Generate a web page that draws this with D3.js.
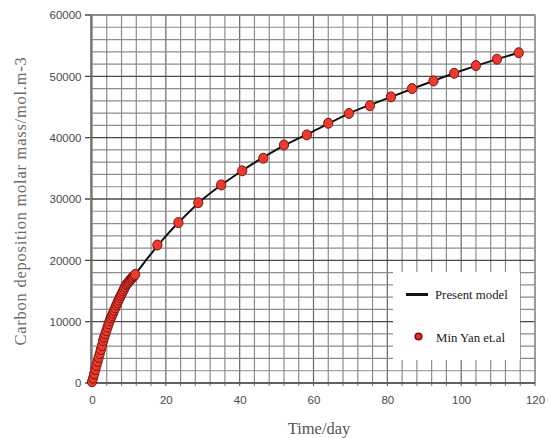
<!DOCTYPE html>
<html>
<head>
<meta charset="utf-8">
<script src="https://cdn.jsdelivr.net/npm/d3@7"></script>
<style>
  html, body { margin: 0; padding: 0; background: #fff; }
  svg { display: block; }
</style>
</head>
<body>
<svg id="chart" width="548" height="438"></svg>
<script>
// ---- data ----
const xTicks = [0, 20, 40, 60, 80, 100, 120];
const yTicks = [0, 10000, 20000, 30000, 40000, 50000, 60000];

// Min Yan et.al (measured points)
const dataTime = [0, 0.3, 0.6, 0.9, 1.2, 1.5, 1.8, 2.1, 2.4, 2.7, 3.0, 3.3, 3.6, 3.9, 4.2, 4.5,
  4.8, 5.1, 5.4, 5.7, 6.0, 6.3, 6.6, 6.9, 7.2, 7.5, 7.8, 8.1, 8.4, 8.7, 9.0, 9.3, 9.6, 9.9,
  10.2, 10.5, 10.8, 11.1, 11.4, 11.7,
  17.7, 23.4, 28.8, 35.0, 40.7, 46.4, 52.0, 58.2, 64.0, 69.6, 75.3, 81.0, 86.7, 92.5, 98.1,
  104.0, 109.7, 115.6];
const dataValue = [200, 800, 1500, 2200, 2850, 3500, 4150, 4800, 5450, 6100, 6900, 7450, 8000,
  8550, 9100, 9650, 10150, 10600, 11000, 11400, 11850, 12250, 12700, 13100, 13500, 13900, 14250,
  14600, 15000, 15350, 15700, 16050, 16250, 16450, 16700, 16900, 17100, 17300, 17500, 17700,
  22500, 26150, 29400, 32300, 34600, 36650, 38800, 40450, 42350, 43950, 45200, 46650, 48000,
  49250, 50500, 51750, 52800, 53850];

// Present model (curve)
const modelTime = [0, 1, 2, 3, 4, 5, 6, 8, 10, 12, 15, 20, 25, 30, 40, 50, 60, 70, 80, 90, 100, 110, 115.6];
const modelValue = [0, 2450, 4650, 6900, 8700, 10400, 11850, 14550, 16550, 17950, 20300, 23950,
  27100, 29950, 34350, 38050, 41050, 44050, 46400, 48700, 50900, 52850, 53850];

// ---- layout ----
const svg = d3.select("#chart");
const x = d3.scaleLinear().domain([0, 120]).range([92, 535]);
const y = d3.scaleLinear().domain([0, 60000]).range([383, 15]);

const grid = svg.append("g");
// vertical minor grid every 4 days
d3.range(0, 121, 4).forEach(t => {
  grid.append("line")
    .attr("x1", x(t)).attr("x2", x(t))
    .attr("y1", y(60000)).attr("y2", y(0) + 3)
    .attr("stroke", t % 20 === 0 ? "#666" : "#8c8c8c")
    .attr("stroke-width", 1.2);
});
// horizontal grid every 2000
d3.range(0, 60001, 2000).forEach(v => {
  const major = v % 10000 === 0;
  grid.append("line")
    .attr("x1", major ? x(0) - 7 : x(0) - 1).attr("x2", x(120))
    .attr("y1", y(v)).attr("y2", y(v))
    .attr("stroke", major ? "#4a4a4a" : "#8c8c8c")
    .attr("stroke-width", major ? 1.4 : 1.2);
});
// outer frame
svg.append("rect")
  .attr("x", x(0) - 1).attr("y", y(60000))
  .attr("width", x(120) - x(0) + 1).attr("height", y(0) - y(60000))
  .attr("fill", "none").attr("stroke", "#9a9a9a").attr("stroke-width", 1.2);
svg.append("line")
  .attr("x1", x(0) - 1).attr("x2", x(0) - 1).attr("y1", y(60000)).attr("y2", y(0))
  .attr("stroke", "#666").attr("stroke-width", 1.3);
svg.append("line")
  .attr("x1", x(0) - 1).attr("x2", x(120)).attr("y1", y(0)).attr("y2", y(0))
  .attr("stroke", "#555").attr("stroke-width", 1.4);

// axes labels via d3 axes (no domain, text only)
const xAxis = d3.axisBottom(x).tickValues(xTicks).tickSize(0).tickPadding(0);
const gx = svg.append("g").attr("transform", `translate(0, 396)`).call(xAxis);
gx.select(".domain").remove();
gx.selectAll("text").attr("font-family", "Liberation Sans, Arial, sans-serif")
  .attr("font-size", 11.5).attr("fill", "#4a4a4a");

const yAxis = d3.axisLeft(y).tickValues(yTicks).tickSize(0).tickPadding(0).tickFormat(d3.format("d"));
const gy = svg.append("g").attr("transform", `translate(81.5, 0)`).call(yAxis);
gy.select(".domain").remove();
gy.selectAll("text").attr("font-family", "Liberation Sans, Arial, sans-serif")
  .attr("font-size", 11.5).attr("fill", "#4a4a4a");

// titles
svg.append("text")
  .attr("x", 319).attr("y", 434)
  .attr("text-anchor", "middle")
  .attr("font-family", "Liberation Serif, Times New Roman, serif")
  .attr("font-size", 16.5).attr("fill", "#555")
  .text("Time/day");
svg.append("text")
  .attr("transform", "translate(26, 201) rotate(-90)")
  .attr("text-anchor", "middle")
  .attr("font-family", "Liberation Serif, Times New Roman, serif")
  .attr("font-size", 16.5).attr("fill", "#6a6a6a")
  .attr("letter-spacing", 0.75)
  .text("Carbon deposition molar mass/mol.m-3");

// legend background
svg.append("rect")
  .attr("x", 393).attr("y", 272).attr("width", 127).attr("height", 88)
  .attr("fill", "#fff");

// model line
const modelPts = modelTime.map((t, i) => [t, modelValue[i]]);
svg.append("path")
  .datum(modelPts)
  .attr("d", d3.line().x(d => x(d[0])).y(d => y(d[1])).curve(d3.curveMonotoneX))
  .attr("fill", "none").attr("stroke", "#111").attr("stroke-width", 2);

// data points
const dataPts = dataTime.map((t, i) => [t, dataValue[i]]);
svg.append("g").selectAll("ellipse")
  .data(dataPts).join("ellipse")
  .attr("cx", d => x(d[0])).attr("cy", d => y(d[1]))
  .attr("rx", 4.6).attr("ry", 5)
  .attr("fill", "#ee3a2c").attr("stroke", "#7a1410").attr("stroke-width", 1);

// legend contents
svg.append("line")
  .attr("x1", 406).attr("x2", 428).attr("y1", 294.5).attr("y2", 294.5)
  .attr("stroke", "#111").attr("stroke-width", 3);
svg.append("text")
  .attr("x", 435).attr("y", 298.5)
  .attr("font-family", "Liberation Serif, Times New Roman, serif")
  .attr("font-size", 12.8).attr("fill", "#222")
  .text("Present model");
svg.append("circle")
  .attr("cx", 418.5).attr("cy", 336.5).attr("r", 3.3)
  .attr("fill", "#e0302a").attr("stroke", "#8a0d0d").attr("stroke-width", 1.6);
svg.append("text")
  .attr("x", 436).attr("y", 341.5)
  .attr("font-family", "Liberation Serif, Times New Roman, serif")
  .attr("font-size", 12.8).attr("fill", "#222")
  .text("Min Yan et.al");
</script>
</body>
</html>
